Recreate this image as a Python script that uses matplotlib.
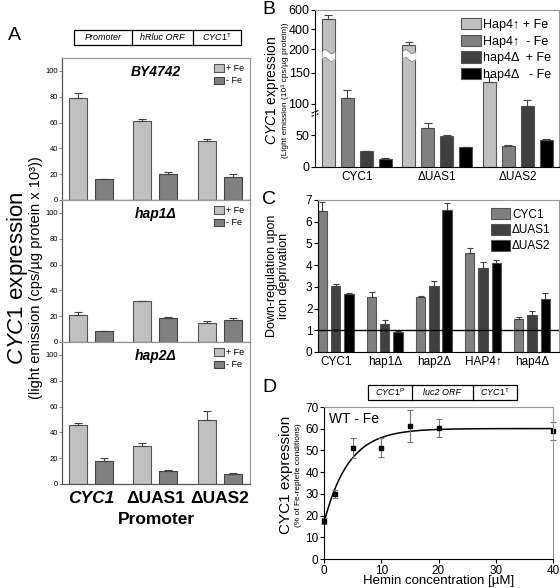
import numpy as np
import matplotlib
matplotlib.use('Agg')
import matplotlib.pyplot as plt
from matplotlib.patches import Rectangle

plt.rcParams['font.family'] = ['Liberation Sans', 'DejaVu Sans']
plt.rcParams['mathtext.fontset'] = 'custom'
plt.rcParams['mathtext.rm'] = 'Liberation Sans'
plt.rcParams['mathtext.it'] = 'Liberation Sans:italic'
plt.rcParams['mathtext.bf'] = 'Liberation Sans:bold'

# ---- data -----------------------------------------------------------
# panel A : luciferase light emission, three strains
promoters_a = ['CYC1', 'ΔUAS1', 'ΔUAS2']
strains_a = ['BY4742', 'hap1Δ', 'hap2Δ']
a_plus = [[79, 61, 46], [21, 31.5, 15], [45.5, 29.5, 49.5]]
a_plus_err = [[4, 2, 1], [2.5, 0.3, 1], [2, 2.5, 7]]
a_minus = [[16, 20, 17.5], [8.5, 18.5, 17], [18, 10, 8]]
a_minus_err = [[0.5, 1.5, 2.5], [0.2, 1, 1.5], [2, 1, 0.5]]

# panel B
b_groups = ['CYC1', 'ΔUAS1', 'ΔUAS2']
b_series = ['Hap4↑ + Fe', 'Hap4↑  - Fe', 'hap4Δ  + Fe', 'hap4Δ   - Fe']
b_vals = [[505, 240, 135], [110, 62, 33], [24.5, 49.5, 96], [12.5, 30.5, 43]]
b_err = [[45, 30, 8], [12, 8, 1], [0.8, 1.5, 10], [0.5, 1, 1.5]]
b_ticks = [0, 50, 100, 150, 200, 400, 600]

# panel C
c_groups = ['CYC1', 'hap1Δ', 'hap2Δ', 'HAP4↑', 'hap4Δ']
c_series = ['CYC1', 'ΔUAS1', 'ΔUAS2']
c_vals = [[6.5, 2.55, 2.52, 4.58, 1.5],
          [3.05, 1.3, 3.05, 3.85, 1.7],
          [2.65, 0.9, 6.55, 4.08, 2.45]]
c_err = [[0.42, 0.2, 0.08, 0.22, 0.12],
         [0.1, 0.18, 0.22, 0.28, 0.2],
         [0.06, 0.08, 0.3, 0.15, 0.25]]

# panel D
hemin = [0, 2, 5, 10, 15, 20, 40]
d_expr = [17.5, 30, 51, 51.3, 61.3, 60.5, 59]
d_err = [1.5, 2, 4.5, 4.5, 7.5, 4.2, 4.3]

W, H = 560, 588
fig = plt.figure(figsize=(5.6, 5.88), dpi=100)


def rect(x0, y0, x1, y1):
    # pixel box (top-left origin) -> figure fraction
    return [x0 / W, 1 - y1 / H, (x1 - x0) / W, (y1 - y0) / H]


def ftext(x, y, s, **kw):
    fig.text(x / W, 1 - y / H, s, **kw)


def construct(x0, y0, x1, y1, divs, labels, fs=6.5):
    ax = fig.add_axes(rect(x0, y0, x1, y1))
    ax.set_xlim(x0, x1)
    ax.set_ylim(0, 1)
    ax.axis('off')
    ax.add_patch(Rectangle((x0, 0), x1 - x0, 1, fill=False, lw=0.9, ec='k', clip_on=False))
    edges = [x0] + divs + [x1]
    for d in divs:
        ax.plot([d, d], [0, 1], color='k', lw=0.9, clip_on=False)
    for i, s in enumerate(labels):
        ax.text((edges[i] + edges[i + 1]) / 2, 0.5, s, ha='center', va='center',
                fontsize=fs, style='italic')


err_kw = dict(ecolor='#444444', elinewidth=0.8, capsize=3, capthick=0.8)

# ---- panel A ----------------------------------------------------------
a_tops = [58, 200, 342]
xa = np.arange(len(promoters_a))
for i, strain in enumerate(strains_a):
    ax = fig.add_axes(rect(62, a_tops[i], 250, a_tops[i] + 142))
    zeros = np.zeros(3)
    ax.bar(xa - 0.2, a_plus[i], 0.28, color='#c0c0c0', edgecolor='#555555', lw=0.8,
           yerr=[zeros, a_plus_err[i]], error_kw=err_kw, label='+ Fe')
    ax.bar(xa + 0.2, a_minus[i], 0.28, color='#808080', edgecolor='#444444', lw=0.8,
           yerr=[zeros, a_minus_err[i]], error_kw=err_kw, label='- Fe')
    ax.set_xlim(-0.45, 2.47)
    ax.set_ylim(0, 110)
    ax.set_yticks([0, 20, 40, 60, 80, 100])
    ax.tick_params(axis='y', labelsize=5.5, length=2, width=0.6, color='#777777', pad=1)
    for sp in ax.spines.values():
        sp.set_color('#999999')
        sp.set_linewidth(0.9)
    ax.spines['left'].set_color('#555555')
    ax.spines['bottom'].set_color('#555555')
    ax.text(0.5, 0.9, strain, transform=ax.transAxes, ha='center', va='center',
            fontsize=10, fontweight='bold', style='italic')
    ax.legend(loc='upper right', frameon=False, fontsize=6.5, handlelength=1.1,
              handleheight=0.9, handletextpad=0.2, labelspacing=0.35,
              borderaxespad=0.3)
    if i < 2:
        ax.set_xticks([])
    else:
        ax.set_xticks(xa)
        ax.set_xticklabels(promoters_a, fontsize=12.5, fontweight='bold')
        ax.get_xticklabels()[0].set_style('italic')
        ax.tick_params(axis='x', length=0, pad=5)
        ax.set_xlabel('Promoter', fontsize=12.5, fontweight='bold', labelpad=4)

construct(74, 30, 241, 45, [131.7, 193.3], ['Promoter', 'hRluc ORF', r'$CYC1^{\mathrm{T}}$'])
ftext(18, 278, r'$\mathit{CYC1}$ expression', rotation=90, ha='center', va='center', fontsize=16)
ftext(36, 278, '(light emission (cps/µg protein x 10³))', rotation=90, ha='center',
      va='center', fontsize=10.5)

# ---- panel B ----------------------------------------------------------
b_knots = [0, 150, 200, 400, 600, 1000]
b_px = [0, 93.8, 117.2, 137.2, 156.5, 195]


def b_fwd(y):
    return np.interp(y, b_knots, b_px)


def b_inv(p):
    return np.interp(p, b_px, b_knots)


axb = fig.add_axes(rect(315, 10, 559, 166.5))
axb.set_yscale('function', functions=(b_fwd, b_inv))
b_colors = ['#c0c0c0', '#808080', '#404040', '#000000']
xb = np.arange(len(b_groups))
for j in range(4):
    axb.bar(xb + (j - 1.5) * 0.236, b_vals[j], 0.16, color=b_colors[j], edgecolor='#555555',
            lw=0.8, yerr=[np.zeros(3), b_err[j]], error_kw=err_kw, label=b_series[j])
# break band on the two tall bars
wx = np.linspace(0, 1, 40)
for g in [0, 1]:
    if b_vals[0][g] > 200:
        left = xb[g] - 1.5 * 0.236 - 0.08
        xs = left + wx * 0.16
        lo = b_inv(107 + 2 * np.sin(wx * 2 * np.pi))
        hi = b_inv(115 + 2 * np.sin(wx * 2 * np.pi))
        axb.fill_between(xs, lo, hi, color='white', lw=0, zorder=3)
        axb.plot(xs, lo, color='#888888', lw=0.6, zorder=3)
        axb.plot(xs, hi, color='#888888', lw=0.6, zorder=3)
axb.set_ylim(0, 600)
axb.set_xlim(-0.52, 2.51)
axb.set_yticks(b_ticks)
axb.set_yticklabels([str(t) for t in b_ticks])
axb.minorticks_off()
axb.set_xticks(xb)
axb.set_xticklabels(b_groups, fontsize=8.5)
axb.tick_params(axis='y', labelsize=9, length=3, width=0.8, pad=1)
axb.tick_params(axis='x', length=0, pad=3)
for sp in ['top', 'right']:
    axb.spines[sp].set_color('#999999')
# axis break marks
axb.plot([-0.012, 0.012], [0.342, 0.356], transform=axb.transAxes, color='k', lw=0.8, clip_on=False)
axb.plot([-0.012, 0.012], [0.322, 0.336], transform=axb.transAxes, color='k', lw=0.8, clip_on=False)
axb.plot([0, 0], [0.33, 0.345], transform=axb.transAxes, color='white', lw=2, clip_on=False)
axb.legend(loc='upper right', frameon=False, fontsize=9, handlelength=1.6, handleheight=1.0,
           handletextpad=0.15, labelspacing=0.3, borderaxespad=0.25)
ftext(272, 90, r'$\mathit{CYC1}$ expression', rotation=90, ha='center', va='center', fontsize=10)
ftext(285, 90, '(Light emission (10³ cps/µg protein))', rotation=90, ha='center', va='center',
      fontsize=6)

# ---- panel C ----------------------------------------------------------
axc = fig.add_axes(rect(318, 200, 559, 352))
c_colors = ['#808080', '#404040', '#000000']
xc = np.arange(len(c_groups))
for j in range(3):
    axc.bar(xc + (j - 1) * 0.27, c_vals[j], 0.19, color=c_colors[j], edgecolor='#555555',
            lw=0.8, yerr=[np.zeros(5), c_err[j]], error_kw=dict(err_kw, capsize=2.5),
            label=c_series[j])
axc.axhline(1, color='k', lw=1)
axc.set_xlim(-0.36, 4.55)
axc.set_ylim(0, 7)
axc.set_yticks(range(8))
axc.set_xticks(xc)
axc.set_xticklabels(c_groups, fontsize=8.5)
axc.tick_params(axis='y', labelsize=8.5, length=3, width=0.8, pad=1)
axc.tick_params(axis='x', length=0, pad=3)
for sp in ['top', 'right']:
    axc.spines[sp].set_color('#999999')
axc.legend(loc='upper right', frameon=False, fontsize=8.5, handlelength=1.6, handleheight=1.0,
           handletextpad=0.15, labelspacing=0.3, borderaxespad=0.3)
ftext(278, 276, 'Down-regulation upon\niron deprivation', rotation=90, ha='center', va='center',
      fontsize=9, linespacing=1.1)

# ---- panel D ----------------------------------------------------------
axd = fig.add_axes(rect(324, 407, 553, 559))
hx = np.array(hemin, dtype=float)
hy = np.array(d_expr)
best = None
for k in np.linspace(0.01, 1.0, 1000):
    e = np.exp(-k * hx)
    A = np.column_stack([1 - e, e])
    coef, res, *_ = np.linalg.lstsq(A, hy, rcond=None)
    r = np.sum((A @ coef - hy) ** 2)
    if best is None or r < best[0]:
        best = (r, k, coef)
_, kf, (top, base) = best
xs = np.linspace(0, 40, 300)
axd.plot(xs, top * (1 - np.exp(-kf * xs)) + base * np.exp(-kf * xs), color='k', lw=1.1)
eb = axd.errorbar(hemin, d_expr, yerr=d_err, fmt='s', color='k', ms=2.5, ecolor='#777777',
                  elinewidth=0.8, capsize=2.5, capthick=0.8)
for art in eb.get_children():
    art.set_clip_on(False)
axd.set_xlim(0, 40)
axd.set_ylim(0, 70)
axd.set_xticks([0, 10, 20, 30, 40])
axd.set_yticks(range(0, 71, 10))
axd.tick_params(labelsize=8.5, length=3, width=0.8, pad=1)
for sp in ['top', 'right']:
    axd.spines[sp].set_color('#999999')
axd.text(0.02, 0.92, 'WT - Fe', transform=axd.transAxes, fontsize=10, va='center')
axd.set_xlabel('Hemin concentration [µM]', fontsize=9.5, labelpad=-1)
construct(368, 385, 517, 400, [411.7, 472.7], [r'$CYC1^{\mathrm{P}}$', 'luc2 ORF', r'$CYC1^{\mathrm{T}}$'])
ftext(286, 475, 'CYC1 expression', rotation=90, ha='center', va='center', fontsize=11)
ftext(298, 475, '(% of Fe-replete conditions)', rotation=90, ha='center', va='center', fontsize=6)

# panel letters
ftext(8, 35, 'A', fontsize=14, va='center')
ftext(262, 9, 'B', fontsize=14, va='center')
ftext(262, 200, 'C', fontsize=14, va='center')
ftext(262, 388, 'D', fontsize=14, va='center')

fig.savefig('out.png', dpi=100)
